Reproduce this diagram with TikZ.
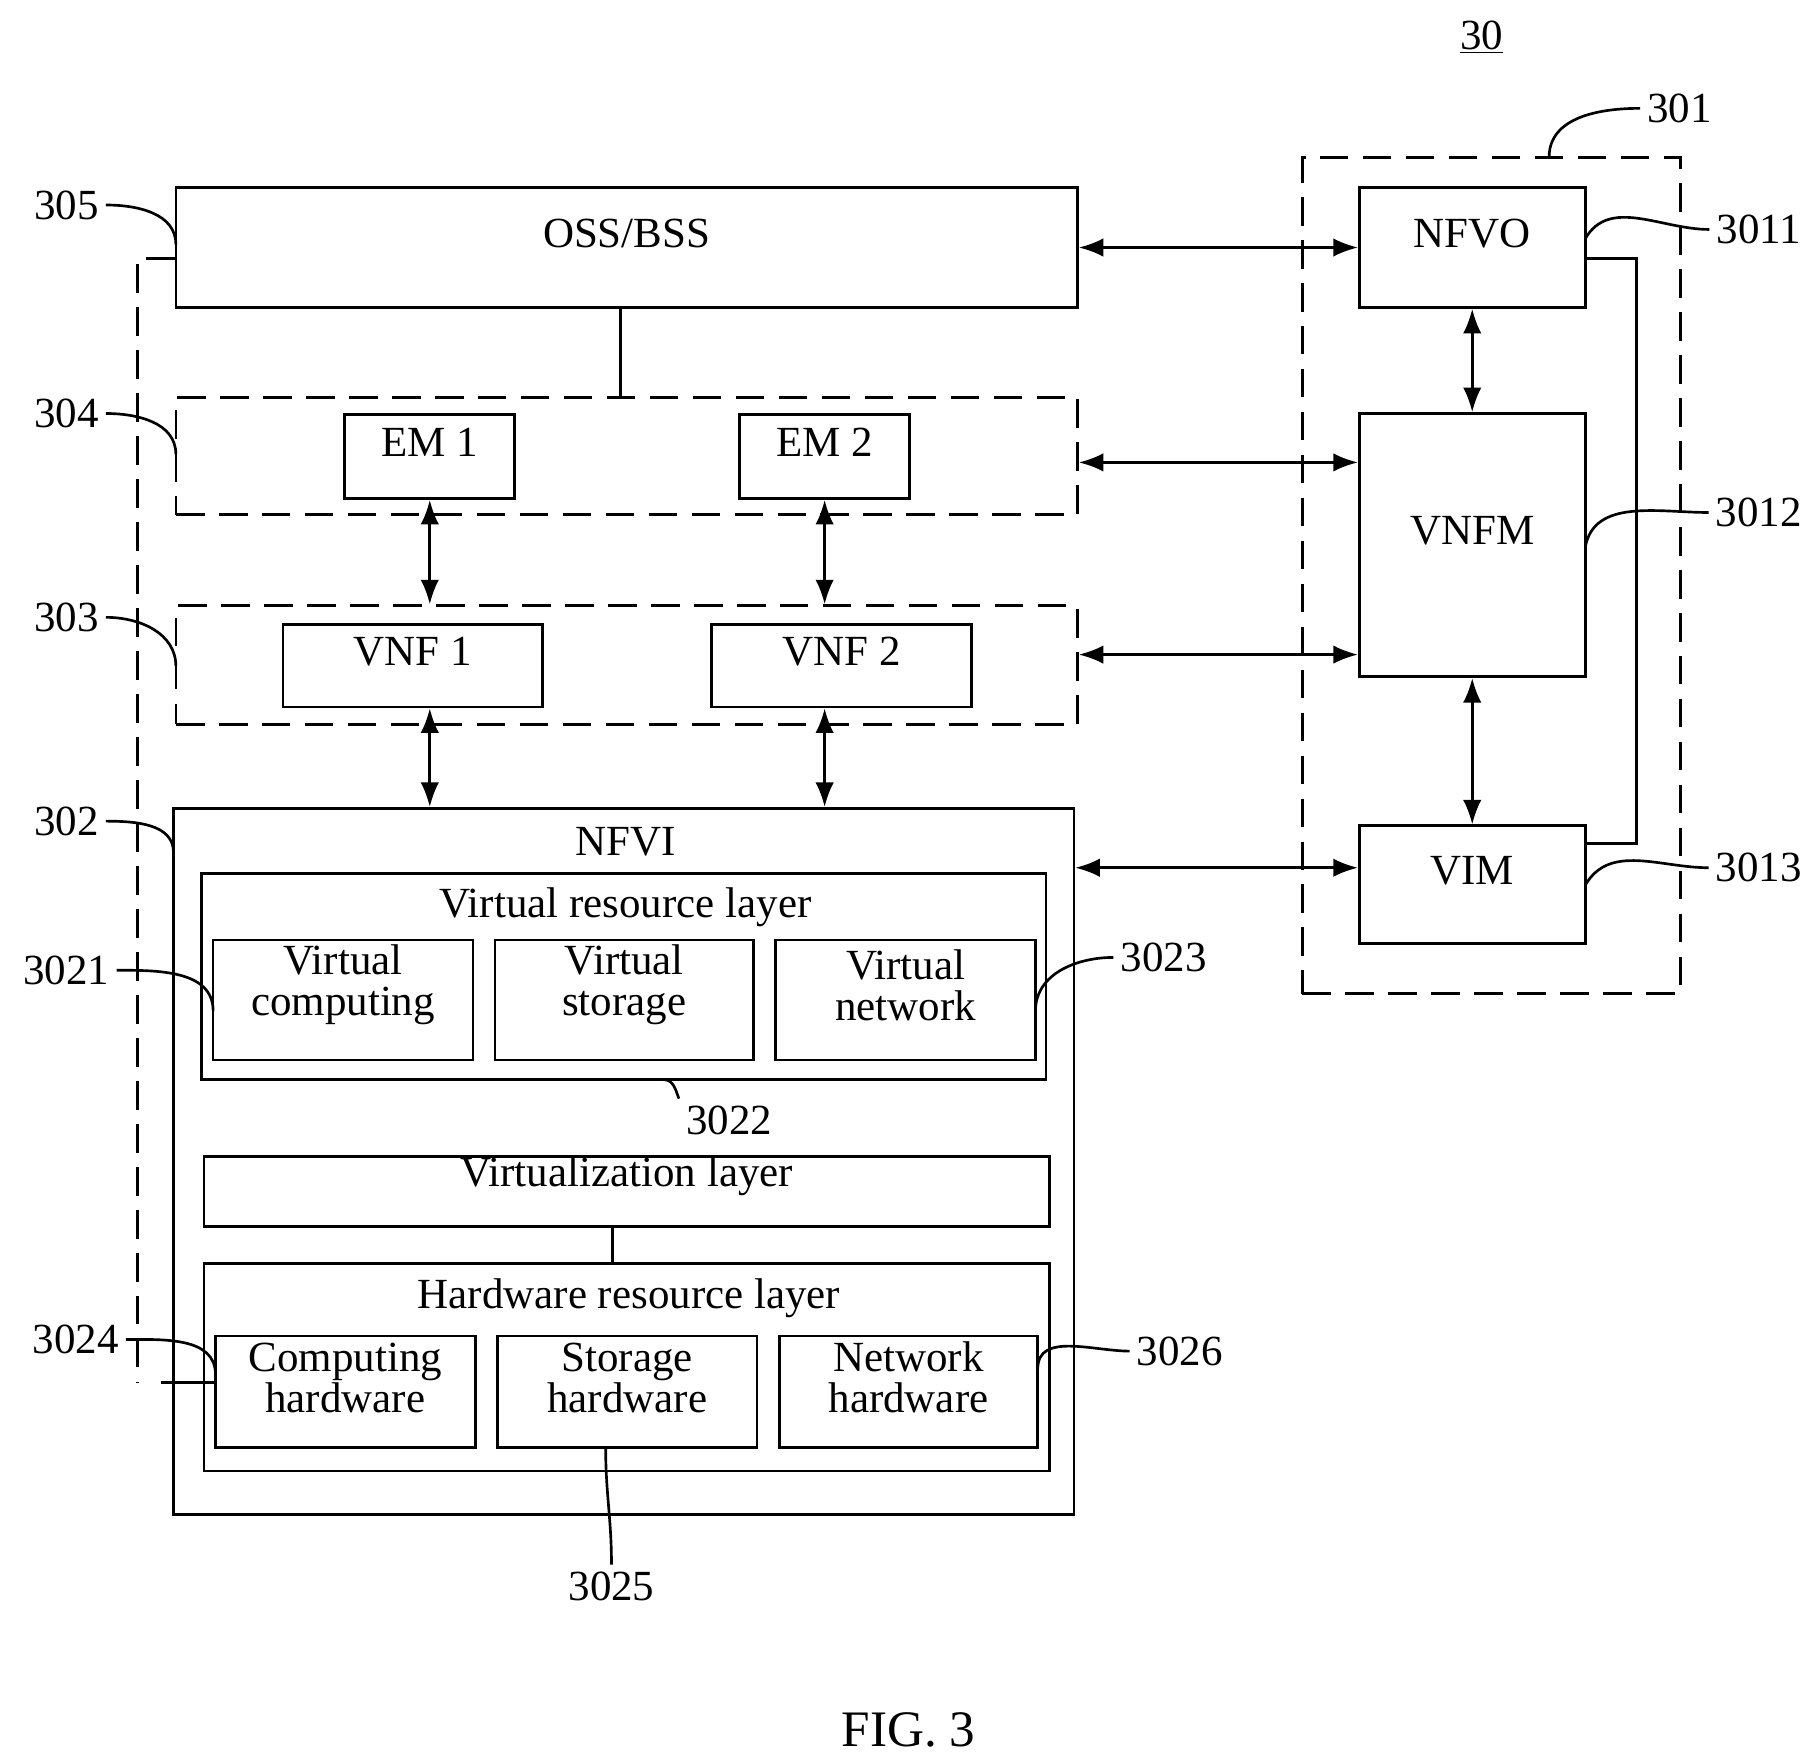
\documentclass[tikz,border=0pt]{standalone}
\usepackage{fontspec}
\setmainfont{Liberation Serif}
\usetikzlibrary{arrows.meta,fit}
\tikzset{
  box/.style={draw,line width=1.3pt,inner sep=0pt,align=center,font=\fontsize{21}{21}\selectfont},
  grp/.style={draw,line width=1.3pt,dash pattern=on 14pt off 7pt,inner sep=0pt},
  link/.style={line width=1.3pt,{Latex[length=12pt,width=9pt]}-{Latex[length=12pt,width=9pt]}},
  lead/.style={line width=1.3pt},
  ref/.style={font=\fontsize{21}{21}\selectfont},
}
\begin{document}
\begin{tikzpicture}[x=0.02cm,y=-0.02cm]
			\useasboundingbox (0,0) rectangle (1560,1512);
			% management and orchestration
			\node[grp,fit={(1118,135) (1443,853)}] (mano) {};
			\node[box,fit={(1167,161) (1361,264)}] (nfvo) {NFVO};
			\node[box,fit={(1167,355) (1361,581)}] (vnfm) {VNFM};
			\node[box,fit={(1167,709) (1361,810)}] (vim) {VIM};
			\draw[lead] (nfvo.east |- 0,222) -- (1405,222) -- (1405,724) -- (vim.east |- 0,724);
			% left side
			\node[box,fit={(151,161) (925,264)}] (oss) {OSS/BSS};
			\node[grp,fit={(151,341) (925,442)}] (em) {};
			\node[box,fit={(296,356) (442,428)}] (em1) {EM 1};
			\node[box,fit={(635,356) (781,428)}] (em2) {EM 2};
			\node[grp,fit={(151,520) (925,622)}] (vnf) {};
			\node[box,fit={(243,536) (466,607)}] (vnf1) {VNF 1};
			\node[box,fit={(611,536) (834,607)}] (vnf2) {VNF 2};
			\node[box,fit={(149,694) (922,1300)}] (nfvi) {};
			\node[ref] (nfvit) at (537,723) {NFVI};
			\node[box,fit={(173,750) (898,927)}] (vrl) {};
			\node[ref] (vrlt) at (537,779) {Virtual resource layer};
			\node[box,fit={(183,807) (406,910)},font=\fontsize{21}{20}\selectfont] (vc) {Virtual\\computing};
			\node[box,fit={(425,807) (647,910)},font=\fontsize{21}{20}\selectfont] (vs) {Virtual\\storage};
			\node[box,fit={(666,807) (889,910)},font=\fontsize{21}{20}\selectfont] (vn) {Virtual\\network};
			\node[box,fit={(175,993) (901,1053)}] (vl) {Virtualization layer};
			\node[box,fit={(175,1085) (901,1263)}] (hrl) {};
			\node[ref] (hrlt) at (540,1115) {Hardware resource layer};
			\node[box,fit={(185,1147) (408,1243)},font=\fontsize{21}{20}\selectfont] (ch) {Computing\\hardware};
			\node[box,fit={(427,1147) (650,1243)},font=\fontsize{21}{20}\selectfont] (sh) {Storage\\hardware};
			\node[box,fit={(669,1147) (891,1243)},font=\fontsize{21}{20}\selectfont] (nh) {Network\\hardware};
			\draw[lead] (oss.south -| 533,0) -- (em.north -| 533,0);
			\draw[lead] (vl.south -| 526,0) -- (hrl.north -| 526,0);
			\draw[lead,dash pattern=on 14pt off 7pt] (oss.west |- 0,222) -- (118,222) -- (118,1187);
			\draw[lead] (138,1187) -- (ch.west |- 0,1187);
			% arrows
			\draw[link] (oss.east) -- (nfvo.west);
			\draw[link] (em.east |- 0,397) -- (vnfm.west |- 0,397);
			\draw[link] (vnf.east |- 0,562) -- (vnfm.west |- 0,562);
			\draw[link] (nfvi.east |- 0,745) -- (vim.west |- 0,745);
			\draw[link] (nfvo.south) -- (vnfm.north);
			\draw[link] (vnfm.south) -- (vim.north);
			\draw[link] (em1.south -| 369,0) -- (vnf.north -| 369,0);
			\draw[link] (em2.south -| 708,0) -- (vnf.north -| 708,0);
			\draw[link] (vnf1.south -| 369,0) -- (nfvi.north -| 369,0);
			\draw[link] (vnf2.south -| 708,0) -- (nfvi.north -| 708,0);
			% reference numerals
			\node[ref] (n30) at (1272,32) {\underline{30}};
			\node[ref] (n301) at (1442,93) {301};
			\node[ref] (n3011) at (1510,197) {3011};
			\node[ref] (n3012) at (1510,440) {3012};
			\node[ref] (n3013) at (1510,745) {3013};
			\node[ref] (n305) at (57,176) {305};
			\node[ref] (n304) at (57,355) {304};
			\node[ref] (n303) at (57,530) {303};
			\node[ref] (n302) at (57,705) {302};
			\node[ref] (n3021) at (57,833) {3021};
			\node[ref] (n3022) at (626,962) {3022};
			\node[ref] (n3023) at (999,822) {3023};
			\node[ref] (n3024) at (65,1150) {3024};
			\node[ref] (n3025) at (525,1362) {3025};
			\node[ref] (n3026) at (1013,1160) {3026};
			\draw[lead] (1330,135) to[out=-90+180,in=180] (n301.west);
			\draw[lead] (1361,205) to[out=60,in=180] (n3011.west);
			\draw[lead] (1361,470) to[out=80,in=180] (n3012.west);
			\draw[lead] (1361,760) to[out=60,in=180] (n3013.west);
			\draw[lead] (n305.east) to[out=0,in=90] (151,210);
			\draw[lead] (n304.east) to[out=0,in=90] (151,390);
			\draw[lead] (n303.east) to[out=0,in=90] (151,572);
			\draw[lead] (n302.east) to[out=0,in=90] (149,732);
			\draw[lead] (n3021.east) to[out=0,in=90] (183,868);
			\draw[lead] (n3022.north west) to[out=110,in=0] (570,927);
			\draw[lead] (n3023.west) to[out=180,in=90] (889,868);
			\draw[lead] (n3024.east) to[out=0,in=90] (185,1180);
			\draw[lead] (n3025.north) to[out=90,in=-90] (520,1243);
			\draw[lead] (n3026.west) to[out=180,in=90] (891,1175);
			\node[font=\fontsize{25}{25}\selectfont] (fig) at (780,1485) {FIG. 3};
\end{tikzpicture}
\end{document}
